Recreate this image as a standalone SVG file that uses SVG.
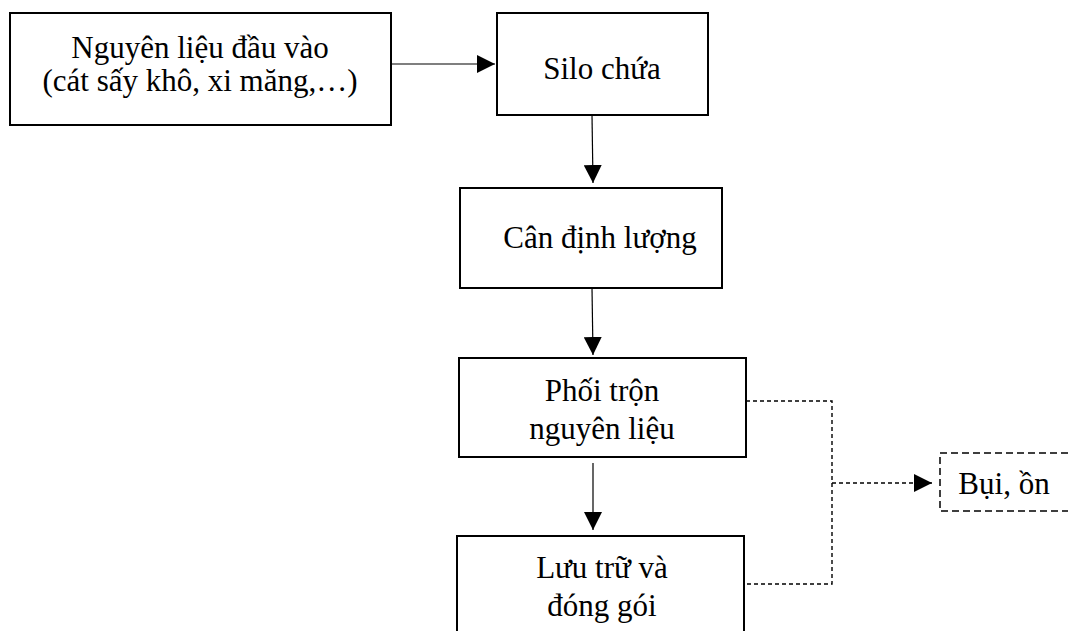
<svg xmlns="http://www.w3.org/2000/svg" width="1068" height="631" viewBox="0 0 1068 631">
<style>
.box{fill:#fff;stroke:#000;stroke-width:2}
.dbox{fill:#fff;stroke:#000;stroke-width:1.5;stroke-dasharray:7,4}
.t{font-family:"Liberation Serif","Times New Roman",serif;font-size:31px;fill:#000;text-anchor:middle}
.c{fill:none;stroke:#000;stroke-width:1.2}
.d{fill:none;stroke:#000;stroke-width:1.4;stroke-dasharray:4,3}
</style>
<defs>
<marker id="ah" viewBox="0 0 10 10" refX="10" refY="5" markerWidth="18" markerHeight="18" markerUnits="userSpaceOnUse" orient="auto">
<path d="M0,0 L10,5 L0,10 Z" fill="#000"/>
</marker>
</defs>
<rect width="1068" height="631" fill="#fff"/>
<g id="connectors">
<line class="c" x1="391" y1="64" x2="495" y2="64" marker-end="url(#ah)"/>
<line class="c" x1="592" y1="115" x2="593" y2="183" marker-end="url(#ah)"/>
<line class="c" x1="592" y1="288" x2="593" y2="355" marker-end="url(#ah)"/>
<line class="c" x1="593" y1="463" x2="593" y2="530" marker-end="url(#ah)"/>
<polyline class="d" points="746,401 832,401 832,584 744,584"/>
<line class="d" x1="832" y1="483" x2="932" y2="483" marker-end="url(#ah)"/>
</g>
<g id="n1">
<rect class="box" x="10" y="13" width="381" height="112"/>
<text class="t" x="200" y="58">Nguyên liệu đầu vào</text>
<text class="t" x="200" y="91">(cát sấy khô, xi măng,…)</text>
</g>
<g id="n2">
<rect class="box" x="497" y="13" width="211" height="102"/>
<text class="t" x="602" y="79">Silo chứa</text>
</g>
<g id="n3">
<rect class="box" x="460" y="188" width="262" height="100"/>
<text class="t" x="600" y="248">Cân định lượng</text>
</g>
<g id="n4">
<rect class="box" x="459" y="358" width="287" height="99"/>
<text class="t" x="602" y="401">Phối trộn</text>
<text class="t" x="602" y="439">nguyên liệu</text>
</g>
<g id="n5">
<rect class="box" x="457" y="536" width="287" height="110"/>
<text class="t" x="602" y="578">Lưu trữ và</text>
<text class="t" x="602" y="616">đóng gói</text>
</g>
<g id="n6">
<rect class="dbox" x="940" y="453" width="140" height="58"/>
<text class="t" x="1004" y="494">Bụi, ồn</text>
</g>
</svg>
